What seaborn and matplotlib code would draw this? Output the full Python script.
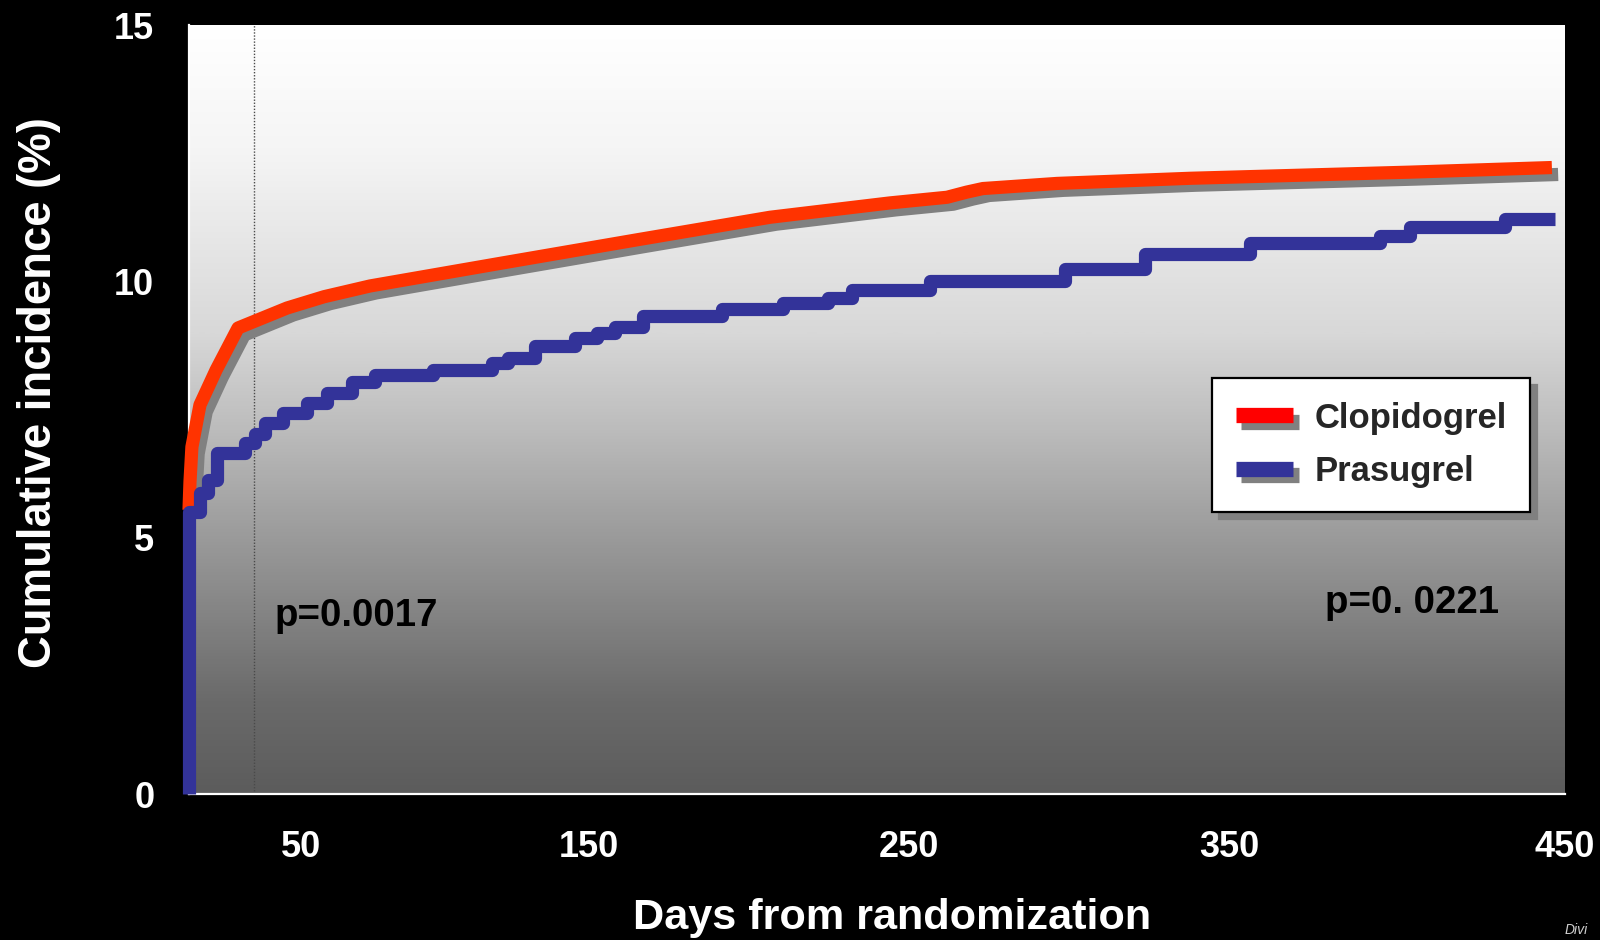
import numpy as np
import matplotlib
matplotlib.use("Agg")
import matplotlib.pyplot as plt
import matplotlib.patheffects as pe
from matplotlib.colors import LinearSegmentedColormap
from matplotlib.lines import Line2D
from matplotlib.ticker import FixedLocator, NullFormatter
from matplotlib import font_manager
import seaborn as sns

# ---- data -------------------------------------------------------------
# Clopidogrel: smooth cumulative incidence (%) vs days from randomization
clopidogrel_days = [0, 0.45, 1.3, 4.9, 12.1, 21.9, 43.8, 58.0, 74.0, 120.1, 165.0,
                    206.6, 244.1, 261.9, 268.0, 273.1, 296.3, 337.8, 403.9, 446.1]
clopidogrel_pct = [5.54, 6.10, 6.77, 7.59, 8.27, 9.09, 9.48, 9.70, 9.91, 10.36, 10.81,
                   11.25, 11.53, 11.64, 11.74, 11.81, 11.91, 12.01, 12.13, 12.22]

# Prasugrel: Kaplan-Meier style step curve (event day, cumulative %)
prasugrel_days = [0, 0, 4.9, 8.5, 12.5, 25.0, 29.5, 34.0, 42.0, 52.1, 59.0,
                  67.7, 75.7, 95.8, 116.3, 121.9, 131.3, 145.1, 152.5, 158.1,
                  166.9, 191.6, 210.6, 224.7, 232.2, 256.6, 298.8, 323.8,
                  356.3, 394.9, 403.9, 432.1, 447.0]
prasugrel_pct = [0.0, 5.50, 5.87, 6.12, 6.65, 6.84, 7.03, 7.23, 7.43, 7.62, 7.82,
                 8.04, 8.17, 8.27, 8.40, 8.50, 8.73, 8.89, 9.00, 9.11,
                 9.32, 9.46, 9.57, 9.68, 9.83, 10.01, 10.25, 10.53,
                 10.74, 10.88, 11.06, 11.21, 11.21]

landmark_day = 29
x_ticks = [50, 150, 250, 350, 450]
y_ticks = [0, 5, 10, 15]
series_names = ["Clopidogrel", "Prasugrel"]
p_values = ["p=0.0017", "p=0. 0221"]
x_title = "Days from randomization"
y_title = "Cumulative incidence (%)"

# ---- style ------------------------------------------------------------
sns.set_theme(style="white")
names = {f.name for f in font_manager.fontManager.ttflist}
if "Liberation Sans Narrow" in names:
    NARROW, SCALE = "Liberation Sans Narrow", 1.0
else:
    # same glyph design, shrunk so the words keep the narrow face's width
    NARROW, SCALE = "Liberation Sans", 0.82
plt.rcParams["font.family"] = ["Liberation Sans", "DejaVu Sans"]
plt.rcParams["font.weight"] = "bold"

RED = "#FF3300"
BLUE = "#333399"
SHADOW = "#808080"

fig = plt.figure(figsize=(16, 9.4), dpi=100, facecolor="black")
ax = fig.add_axes([0.118125, 0.155319, 0.86, 0.818085])

# vertical background gradient: white at the top, dark grey at the bottom
grad_cmap = LinearSegmentedColormap.from_list(
    "bg",
    [(0.0, "#5c5c5c"), (0.12, "#6a6a6a"), (0.34, "#9c9c9c"), (0.47, "#bbbbbb"),
     (0.60, "#d8d8d8"), (0.84, "#f5f5f5"), (1.0, "#ffffff")])
ax.imshow(np.linspace(0, 1, 512).reshape(-1, 1), cmap=grad_cmap, origin="lower",
          extent=(0, 1, 0, 1), transform=ax.transAxes, aspect="auto", zorder=0,
          interpolation="bilinear")

# landmark line
ax.axvline(landmark_day, color="#4a4a4a", lw=1.0, ls=(0, (1, 1.2)), zorder=1)

# curves
sns.lineplot(x=clopidogrel_days, y=clopidogrel_pct, estimator=None, sort=False,
             color=RED, lw=9.5, ax=ax, legend=False, zorder=4,
             solid_capstyle="butt", solid_joinstyle="round", clip_on=False,
             path_effects=[pe.SimpleLineShadow(offset=(4.5, -5), shadow_color=SHADOW,
                                               alpha=1.0),
                           pe.Normal()])
sns.lineplot(x=prasugrel_days, y=prasugrel_pct, estimator=None, sort=False,
             drawstyle="steps-post", color=BLUE, lw=9.5, ax=ax, legend=False,
             zorder=5, solid_capstyle="butt", solid_joinstyle="round",
             clip_on=False)

# non-uniform day axis as printed on the original figure
axis_day_knots = np.array([0, 50, 150, 250, 350, 450], dtype=float)
axis_pos_knots = np.array([0, 112, 400, 720, 1040, 1376], dtype=float)


def _fwd(d):
    return np.interp(d, axis_day_knots, axis_pos_knots)


def _inv(p):
    return np.interp(p, axis_pos_knots, axis_day_knots)


ax.set_xscale("function", functions=(_fwd, _inv))
ax.set_xlim(0, 450)
ax.set_ylim(0, 15)

ax.xaxis.set_major_locator(FixedLocator(x_ticks))
ax.xaxis.set_minor_locator(FixedLocator([0]))
ax.xaxis.set_minor_formatter(NullFormatter())
ax.set_xticklabels([str(t) for t in x_ticks])
ax.set_yticks(y_ticks)
ax.set_yticklabels([str(t) for t in y_ticks])

for side in ("top", "right"):
    ax.spines[side].set_visible(False)
for side in ("left", "bottom"):
    ax.spines[side].set_color("white")
    ax.spines[side].set_linewidth(1.6)
    ax.spines[side].set_zorder(3)

ax.tick_params(axis="x", which="major", direction="out", length=13, width=1.5,
               color="#9a9a9a", pad=13, labelsize=26, labelcolor="white")
ax.tick_params(axis="x", which="minor", direction="out", length=7, width=1.5,
               color="white")
ax.tick_params(axis="y", which="major", direction="out", length=9, width=1.5,
               color="white", pad=16, labelsize=26, labelcolor="white")
for lbl in ax.get_xticklabels() + ax.get_yticklabels():
    lbl.set_fontweight("bold")

ax.set_xlabel(x_title, family=[NARROW, "DejaVu Sans"], fontsize=38 * SCALE,
              fontweight="bold", color="white", va="baseline")
ax.xaxis.set_label_coords(0.511, -0.176)
ax.set_ylabel(y_title, family=[NARROW, "DejaVu Sans"], fontsize=40 * SCALE,
              fontweight="bold", color="white", va="center", ha="center")
ax.yaxis.set_label_coords(-0.109, 0.5215)

# p-values
ax.text(0.0625, 0.219, p_values[0], transform=ax.transAxes, family=[NARROW, "DejaVu Sans"],
        fontsize=33.7 * SCALE, fontweight="bold", color="black", va="baseline", zorder=6)
ax.text(0.8256, 0.235, p_values[1], transform=ax.transAxes, family=[NARROW, "DejaVu Sans"],
        fontsize=33.7 * SCALE, fontweight="bold", color="black", va="baseline", zorder=6)

# legend with shadowed handles and frame
handle_fx = [pe.SimpleLineShadow(offset=(4, -4.5), shadow_color=SHADOW, alpha=1.0),
             pe.Normal()]
handles = [Line2D([], [], color="#FF0000", lw=11, solid_capstyle="butt",
                  path_effects=handle_fx),
           Line2D([], [], color=BLUE, lw=11, solid_capstyle="butt",
                  path_effects=handle_fx)]
leg_size = 30.4 * SCALE
leg = ax.legend(handles, series_names, loc="upper left",
                bbox_to_anchor=(0.7435, 0.541), borderaxespad=0,
                prop={"family": NARROW, "weight": "bold", "size": leg_size},
                frameon=True, fancybox=False, handlelength=1.37 * 30.4 / leg_size,
                handletextpad=0.5 * 30.4 / leg_size,
                labelspacing=0.6, borderpad=0.68,
                shadow={"color": SHADOW, "alpha": 1.0, "ox": 5, "oy": -5})
leg.get_frame().set_edgecolor("black")
leg.get_frame().set_linewidth(1.6)
leg.get_frame().set_facecolor("white")
leg.set_zorder(7)

fig.text(0.978, 0.003, "Divi", color="#cfcfcf", fontsize=10, style="italic",
         fontweight="normal", ha="left", va="bottom")

fig.savefig("out.png", dpi=100, facecolor="black")
